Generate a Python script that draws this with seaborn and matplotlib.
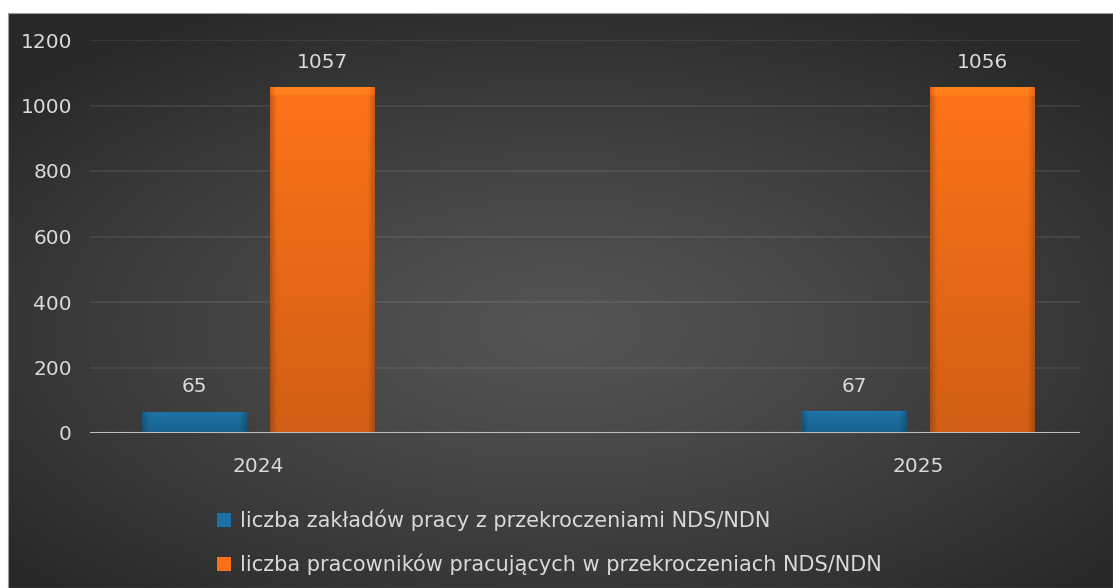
import numpy as np
import pandas as pd
import matplotlib
matplotlib.use("Agg")
import matplotlib.pyplot as plt
import seaborn as sns
from matplotlib.patches import Patch
from matplotlib.colors import to_rgb

# ---- data ----
years = ["2024", "2025"]
series_names = [
    "liczba zakładów pracy z przekroczeniami NDS/NDN",
    "liczba pracowników pracujących w przekroczeniach NDS/NDN",
]
workplaces = [65, 67]
workers = [1057, 1056]
y_ticks = [0, 200, 400, 600, 800, 1000, 1200]

colors = ["#1c72a6", "#f97119"]
text_color = "#d9d9d9"

df = pd.DataFrame({
    "year": years * 2,
    "series": [series_names[0]] * 2 + [series_names[1]] * 2,
    "value": workplaces + workers,
})

sns.set_theme(style="dark")
plt.rcParams["font.family"] = ["DejaVu Sans"]

W, H = 1113, 588
fig = plt.figure(figsize=(W / 100, H / 100), dpi=100)
fig.patch.set_facecolor("white")

# background with radial gradient
bg = fig.add_axes([8 / W, 0, 1 - 8 / W, (H - 13) / H], zorder=-5)
gx = np.linspace(-1, 1, 400)
gy = np.linspace(-1, 1, 220)
XX, YY = np.meshgrid(gx, gy)
R = np.sqrt((XX * 0.95) ** 2 + ((YY + 0.1) * 1.0) ** 2)
R = np.clip(R / 1.25, 0, 1)
lo, hi = 0.16, 0.33
G = hi - (hi - lo) * R ** 1.2
img = np.dstack([G, G, G])
bg.imshow(img, aspect="auto", extent=[0, 1, 0, 1], origin="lower")
bg.set_xlim(0, 1)
bg.set_ylim(0, 1)
bg.set_xticks([]); bg.set_yticks([])
for s in bg.spines.values():
    s.set_color("#9a9a9a")
    s.set_linewidth(0.8)

# main axes
ax = fig.add_axes([90 / W, 1 - 433 / H, (1080 - 90) / W, (433 - 40) / H])
ax.set_facecolor("none")
sns.barplot(data=df, x="year", y="value", hue="series", palette=colors,
            width=0.39, gap=0.185, ax=ax, legend=False, saturation=1)

ax.set_yticks(y_ticks)
ax.set_yticklabels([str(t) for t in y_ticks])
ax.set_xlabel("")
ax.set_ylabel("")
ax.grid(axis="y", color="#ffffff", alpha=0.09, linewidth=1.2)
ax.grid(axis="x", visible=False)
ax.set_axisbelow(True)
for name, s in ax.spines.items():
    s.set_visible(False)
ax.axhline(0, color="#bdbdbd", linewidth=1.5, zorder=3)
ax.tick_params(axis="y", length=0, pad=13, labelsize=14.5, labelcolor=text_color)
ax.tick_params(axis="x", length=0, pad=17, labelsize=14.5, labelcolor=text_color)

# gradient/bevel fill for bars
bars = [p for p in ax.patches if p.get_height() > 0]
for p in bars:
    base = np.array(to_rgb(p.get_facecolor()))
    x0, y0, w, h = p.get_x(), p.get_y(), p.get_width(), p.get_height()
    ny, nx = 200, 60
    vy = np.linspace(0.84, 1.02, ny)[:, None]
    hx = np.linspace(0, 1, nx)[None, :]
    edge = 1 - 0.2 * (np.clip(1 - np.minimum(hx, 1 - hx) / 0.06, 0, 1))
    fac = vy * edge
    top = np.ones((ny, 1))
    top[-5:] = 1.12
    fac = fac * top
    arr = np.clip(base[None, None, :] * fac[:, :, None], 0, 1)
    im = ax.imshow(arr, extent=[x0, x0 + w, y0, y0 + h], origin="lower",
                   aspect="auto", zorder=2.5, interpolation="bilinear")
    im.set_clip_path(p)
    p.set_edgecolor("none")
ax.set_xlim(-0.255, 1.245)
ax.set_ylim(0, 1200)

# value labels
for container in ax.containers:
    ax.bar_label(container, labels=[f"{v:.0f}" for v in container.datavalues],
                 padding=11, color=text_color, fontsize=14.5)

# legend
handles = [Patch(facecolor=c, edgecolor="none") for c in colors]
leg = fig.legend(handles, series_names, loc="upper left",
                 bbox_to_anchor=(198 / W, 1 - 491 / H), frameon=False,
                 fontsize=15, labelcolor=text_color, handlelength=0.7,
                 handleheight=0.7, handletextpad=0.4, labelspacing=1.08)

fig.savefig("out.png", dpi=100)
